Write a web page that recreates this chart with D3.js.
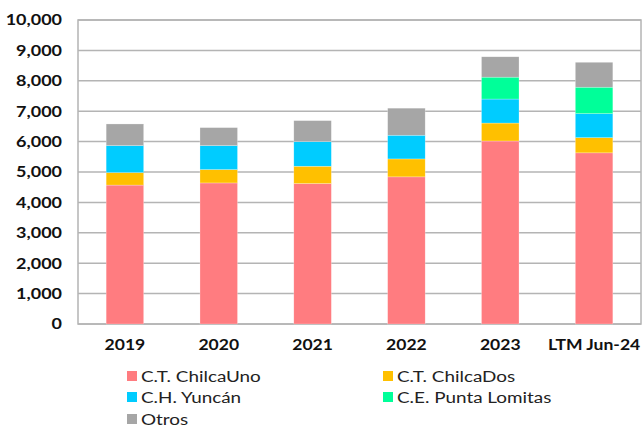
<!DOCTYPE html>
<html>
<head>
<meta charset="utf-8">
<script src="https://cdn.jsdelivr.net/npm/d3@7"></script>
<style>
  body { margin: 0; background: #fff; }
  svg { display: block; font-family: Lato, sans-serif; }
</style>
</head>
<body>
<div id="chart"></div>
<script>
// datos (GWh aprox.)
const categories = ["2019", "2020", "2021", "2022", "2023", "LTM Jun-24"];
const seriesNames = ["C.T. ChilcaUno", "C.T. ChilcaDos", "C.H. Yuncán", "C.E. Punta Lomitas", "Otros"];
const chilcaUno = [4570, 4640, 4620, 4840, 6020, 5630];
const chilcaDos = [410, 440, 570, 590, 590, 500];
const yuncan = [890, 790, 810, 780, 790, 790];
const puntaLomitas = [0, 0, 0, 0, 720, 870];
const otros = [710, 590, 690, 890, 670, 820];
const yTicks = [0, 1000, 2000, 3000, 4000, 5000, 6000, 7000, 8000, 9000, 10000];
const colors = ["#FF7C80", "#FFC000", "#00CCFF", "#00FF99", "#A6A6A6"];

const width = 642, height = 428;
const margin = { top: 20, right: 1, bottom: 104, left: 78 };

const svg = d3.select("#chart").append("svg")
    .attr("width", width)
    .attr("height", height);

const rows = categories.map((c, i) => ({
    cat: c,
    s0: chilcaUno[i], s1: chilcaDos[i], s2: yuncan[i], s3: puntaLomitas[i], s4: otros[i]
}));
const keys = ["s0", "s1", "s2", "s3", "s4"];
const stacked = d3.stack().keys(keys)(rows);

const x = d3.scaleBand()
    .domain(categories)
    .range([margin.left, width - margin.right])
    .paddingInner(0.6)
    .paddingOuter(0.3);

const y = d3.scaleLinear()
    .domain([0, 10000])
    .range([height - margin.bottom, margin.top]);

// rejilla
svg.append("g")
    .selectAll("line")
    .data(yTicks)
    .join("line")
    .attr("x1", margin.left).attr("x2", width - margin.right)
    .attr("y1", d => y(d)).attr("y2", d => y(d))
    .attr("stroke", "#B4B4B4")
    .attr("stroke-width", 1.5);

// borde del área
svg.append("rect")
    .attr("x", margin.left).attr("y", margin.top)
    .attr("width", width - margin.right - margin.left)
    .attr("height", y(0) - margin.top)
    .attr("fill", "none")
    .attr("stroke", "#B4B4B4")
    .attr("stroke-width", 1.5);

// barras
svg.append("g")
    .selectAll("g")
    .data(stacked)
    .join("g")
    .attr("fill", (d, i) => colors[i])
    .selectAll("rect")
    .data(d => d.filter(p => p[1] - p[0] > 0))
    .join("rect")
    .attr("x", d => x(d.data.cat))
    .attr("width", x.bandwidth())
    .attr("y", d => y(d[1]))
    .attr("height", d => y(d[0]) - y(d[1]))
    .attr("stroke", "rgba(255,255,255,0.5)")
    .attr("stroke-width", 0.5);

// eje Y (el texto del original está algo ensanchado)
const yAxis = svg.append("g")
    .attr("transform", `translate(${margin.left},0)`)
    .call(d3.axisLeft(y).tickValues(yTicks).tickFormat(d3.format(",")).tickSize(0).tickPadding(16));
yAxis.select(".domain").remove();
yAxis.selectAll("text")
    .attr("x", 0)
    .attr("transform", "translate(-16,0) scale(1.2,1)")
    .style("font-family", "Lato, sans-serif")
    .style("font-size", "15px")
    .style("font-weight", "bold")
    .attr("fill", "#111");

// eje X
const xAxis = svg.append("g")
    .attr("transform", `translate(0,${y(0)})`)
    .call(d3.axisBottom(x).tickSize(0).tickPadding(15));
xAxis.select(".domain").remove();
xAxis.selectAll("text")
    .attr("transform", "scale(1.17,1)")
    .style("font-family", "Lato, sans-serif")
    .style("font-size", "15px")
    .style("font-weight", "bold")
    .attr("fill", "#111");

// leyenda
const legend = svg.append("g");
const legendPos = [[127, 376], [383, 376], [127, 397], [383, 397], [127, 419]];
seriesNames.forEach((name, i) => {
    const g = legend.append("g")
        .attr("transform", `translate(${legendPos[i][0]},${legendPos[i][1]})`);
    g.append("rect")
        .attr("x", 0).attr("y", -5)
        .attr("width", 10).attr("height", 10)
        .attr("fill", colors[i]);
    g.append("text")
        .attr("transform", "translate(14,0) scale(1.18,1)")
        .attr("dy", "0.35em")
        .style("font-size", "16px")
        .attr("fill", "#222")
        .text(name);
});
</script>
</body>
</html>
